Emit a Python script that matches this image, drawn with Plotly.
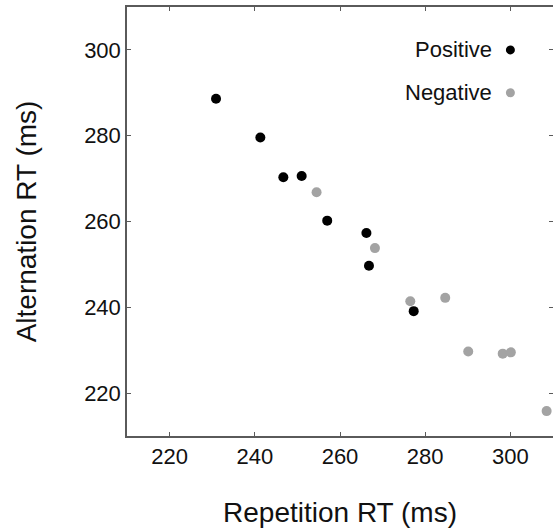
import plotly.graph_objects as go

# Data
pos_x = [230.9, 241.3, 246.7, 251.0, 257.0, 266.2, 266.8, 277.3]
pos_y = [288.6, 279.6, 270.3, 270.6, 260.2, 257.3, 249.7, 239.1]
neg_x = [254.5, 268.2, 276.5, 284.7, 290.1, 298.2, 300.1, 308.5]
neg_y = [266.8, 253.8, 241.4, 242.2, 229.7, 229.2, 229.5, 215.8]

series_names = ["Positive", "Negative"]
series_colors = ["#000000", "#a3a3a3"]
x_ticks = [220, 240, 260, 280, 300]
y_ticks = [220, 240, 260, 280, 300]
# legend anchor in data coordinates (marker position), text to the left
legend_x = 300
legend_y = [300, 290]

FONT = "Liberation Sans, Arial, Helvetica, sans-serif"
AX = "#5a5a5a"

fig = go.Figure()
for name, xs, ys, col in [(series_names[0], pos_x, pos_y, series_colors[0]),
                          (series_names[1], neg_x, neg_y, series_colors[1])]:
    fig.add_trace(go.Scatter(x=xs, y=ys, mode="markers", name=name,
                             marker=dict(size=10, color=col, line=dict(width=0)),
                             showlegend=False, cliponaxis=False))

# custom legend: text on the left, marker on the right
for name, col, ly in zip(series_names, series_colors, legend_y):
    fig.add_shape(type="circle", xref="x", yref="y", xsizemode="pixel", ysizemode="pixel",
                  xanchor=legend_x, yanchor=ly, x0=-4.5, x1=4.5, y0=-4.5, y1=4.5,
                  fillcolor=col, line=dict(width=0))
    fig.add_annotation(x=legend_x, y=ly, xref="x", yref="y", text=name, showarrow=False,
                       xanchor="right", yanchor="middle", xshift=-16, yshift=0,
                       font=dict(size=22, color="#111", family=FONT))

axis_common = dict(showline=True, linecolor=AX, linewidth=1.5, mirror="ticks",
                   ticks="inside", ticklen=4, tickwidth=1.2, tickcolor=AX,
                   showgrid=False, zeroline=False,
                   tickfont=dict(size=22, color="#111", family=FONT))

fig.update_layout(
    width=555, height=531,
    margin=dict(l=127, r=0, t=7, b=95),
    paper_bgcolor="white", plot_bgcolor="white",
    font=dict(family=FONT, color="#111"),
    xaxis=dict(range=[210, 310], tickvals=x_ticks,
               title=dict(text="Repetition RT (ms)", font=dict(size=28, family=FONT, color="#111"),
                          standoff=34),
               **axis_common),
    yaxis=dict(range=[210, 310], tickvals=y_ticks,
               title=dict(text="Alternation RT (ms)", font=dict(size=28, family=FONT, color="#111"),
                          standoff=39),
               **axis_common),
)

fig.write_html("out.html", config={"displayModeBar": False},
               post_script="document.body.style.margin='0px';document.body.style.overflow='hidden';")
